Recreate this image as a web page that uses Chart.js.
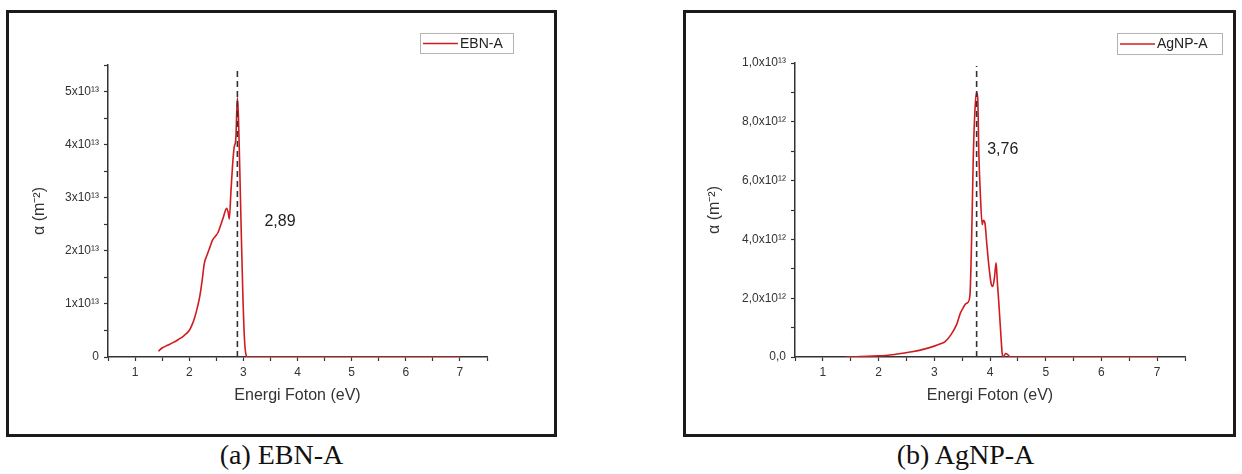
<!DOCTYPE html>
<html>
<head>
<meta charset="utf-8">
<title>Energi Foton</title>
<script src="https://cdn.jsdelivr.net/npm/chart.js@4.4.1/dist/chart.umd.min.js"></script>
<style>
  body { margin: 0; background: #fff; width: 1242px; height: 474px; position: relative; overflow: hidden; }
  .frame { position: absolute; top: 10px; height: 427px; border: 3px solid #1b1b1b; box-sizing: border-box; }
  .frame canvas { display: block; }
  .caption { position: absolute; top: 439px; line-height: 32px; font-family: "Liberation Serif", "Times New Roman", serif; font-size: 28px; color: #111; text-align: center; }
</style>
</head>
<body>

<div class="frame" style="left:6px; width:551px;"><canvas id="chartA" width="545" height="421"></canvas></div>
<div class="frame" style="left:683px; width:553px;"><canvas id="chartB" width="547" height="421"></canvas></div>
<div class="caption" style="left:6px; width:551px;">(a) EBN-A</div>
<div class="caption" style="left:689px; width:553px;">(b) AgNP-A</div>

<script>
// EBN-A : alpha (m^-2) vs photon energy (eV)
var ebnX = [1.43, 1.5, 1.6, 1.7, 1.8, 1.9, 2.0, 2.05, 2.1, 2.15, 2.2, 2.24, 2.28, 2.33, 2.38, 2.43, 2.48, 2.53, 2.58, 2.63, 2.69, 2.72, 2.74, 2.77, 2.8, 2.83, 2.86, 2.89, 2.91, 2.93, 2.96, 2.99, 3.02, 3.05, 3.08, 7.0];
var ebnY = [0.11e13, 0.17e13, 0.22e13, 0.27e13, 0.33e13, 0.4e13, 0.5e13, 0.6e13, 0.74e13, 0.93e13, 1.17e13, 1.45e13, 1.77e13, 1.92e13, 2.06e13, 2.2e13, 2.27e13, 2.34e13, 2.48e13, 2.63e13, 2.8e13, 2.72e13, 2.6e13, 3.1e13, 3.6e13, 3.95e13, 4.1e13, 4.88e13, 4.5e13, 3.7e13, 2.4e13, 1.2e13, 0.35e13, 0.04e13, 0, 0];

// AgNP-A
var agX = [1.41, 1.6, 1.8, 2.0, 2.2, 2.4, 2.6, 2.8, 3.0, 3.1, 3.2, 3.3, 3.4, 3.47, 3.52, 3.56, 3.6, 3.64, 3.67, 3.7, 3.73, 3.76, 3.78, 3.8, 3.83, 3.86, 3.88, 3.91, 3.94, 3.98, 4.02, 4.05, 4.08, 4.11, 4.13, 4.16, 4.19, 4.22, 4.24, 4.28, 4.32, 4.36, 7.0];
var agY = [0, 0.01e12, 0.02e12, 0.04e12, 0.07e12, 0.12e12, 0.18e12, 0.26e12, 0.37e12, 0.44e12, 0.53e12, 0.76e12, 1.1e12, 1.5e12, 1.68e12, 1.8e12, 1.85e12, 2.1e12, 4.0e12, 6.8e12, 8.4e12, 9.0e12, 8.8e12, 6.9e12, 5.4e12, 4.5e12, 4.65e12, 4.55e12, 3.9e12, 3.1e12, 2.5e12, 2.4e12, 2.7e12, 3.2e12, 2.6e12, 1.8e12, 0.9e12, 0.1e12, 0, 0.12e12, 0.08e12, 0, 0];

// gap energies marked with dashed lines
var gapA = 2.89;
var gapB = 3.76;

var xTicks = { min: 0.5, max: 7.5, step: 0.5 };

function toPoints(xs, ys) {
  return xs.map(function (x, i) { return { x: x, y: ys[i] }; });
}

var FONT = '"Liberation Sans", Arial, sans-serif';
var RED = '#d01c1f';

// note text + boxed legend
var extras = {
  id: 'extras',
  afterDraw: function (chart, args, opts) {
    var ctx = chart.ctx, xs = chart.scales.x, ys = chart.scales.y;
    ctx.save();
    ctx.fillStyle = '#222';
    ctx.textBaseline = 'middle';
    ctx.font = '16px ' + FONT;
    ctx.fillText(opts.note, xs.getPixelForValue(opts.noteAt[0]), ys.getPixelForValue(opts.noteAt[1]));

    var ds = chart.data.datasets[0];
    var b = opts.legendBox;
    ctx.strokeStyle = '#b4b4b4';
    ctx.lineWidth = 1;
    ctx.strokeRect(b[0] + 0.5, b[1] + 0.5, b[2], b[3]);
    ctx.strokeStyle = ds.borderColor;
    ctx.lineWidth = 1.6;
    ctx.beginPath();
    ctx.moveTo(b[0] + 3, b[1] + b[3] / 2 + 0.5);
    ctx.lineTo(b[0] + 38, b[1] + b[3] / 2 + 0.5);
    ctx.stroke();
    ctx.font = '14px ' + FONT;
    ctx.fillText(ds.label, b[0] + 40, b[1] + b[3] / 2 + 1);
    ctx.restore();
  }
};

function makeChart(id, cfg) {
  var axisColor = '#333';
  return new Chart(document.getElementById(id), {
    type: 'line',
    data: {
      datasets: [
        {
          label: cfg.label,
          data: toPoints(cfg.xs, cfg.ys),
          borderColor: RED,
          borderWidth: 1.6,
          pointRadius: 0,
          cubicInterpolationMode: 'monotone',
          fill: false,
          order: 1
        },
        {
          label: 'gap',
          data: [{ x: cfg.gap, y: 0 }, { x: cfg.gap, y: cfg.dashTop }],
          borderColor: '#333',
          borderWidth: 1.6,
          borderDash: [6, 4],
          pointRadius: 0,
          fill: false,
          order: 0
        }
      ]
    },
    options: {
      responsive: false,
      animation: false,
      events: [],
      layout: { padding: { left: cfg.padLeft, right: cfg.padRight, top: cfg.padTop, bottom: 29 } },
      plugins: {
        legend: { display: false },
        tooltip: { enabled: false },
        extras: { note: cfg.note, noteAt: cfg.noteAt, legendBox: cfg.legendBox }
      },
      scales: {
        x: {
          type: 'linear',
          min: xTicks.min,
          max: xTicks.max,
          afterFit: function (s) { s.height = 48; },
          border: { display: true, color: axisColor, width: 1.5 },
          grid: { drawOnChartArea: false, drawTicks: true, tickLength: 4, color: axisColor, tickWidth: 1.2 },
          ticks: {
            stepSize: xTicks.step,
            autoSkip: false,
            maxRotation: 0,
            padding: 4,
            color: '#333',
            font: { family: FONT, size: 12 },
            callback: function (v) { return Number.isInteger(v) ? String(v) : ''; }
          },
          title: { display: true, text: 'Energi Foton (eV)', color: '#333', padding: 0, font: { family: FONT, size: 16 } }
        },
        y: {
          min: 0,
          max: cfg.yMax,
          afterFit: function (s) { s.width = cfg.yWidth; },
          border: { display: true, color: axisColor, width: 1.5 },
          grid: { drawOnChartArea: false, drawTicks: true, tickLength: 4, color: axisColor, tickWidth: 1.2 },
          ticks: {
            stepSize: cfg.yStep,
            autoSkip: false,
            padding: 5,
            color: '#333',
            font: { family: FONT, size: 12 },
            callback: cfg.yLabel
          },
          title: { display: true, text: 'α (m⁻²)', color: '#333', padding: 0, font: { family: FONT, size: 16 } }
        }
      }
    },
    plugins: [extras]
  });
}

makeChart('chartA', {
  label: 'EBN-A',
  xs: ebnX, ys: ebnY,
  gap: gapA, dashTop: 5.45e13,
  yMax: 5.5e13, yStep: 0.5e13,
  yLabel: function (v) {
    var k = Math.round(v / 0.5e13);
    if (k % 2) return '';
    return k === 0 ? '0' : (k / 2) + 'x10¹³';
  },
  yWidth: 78, padLeft: 21, padRight: 67, padTop: 52,
  note: '2,89', noteAt: [3.39, 2.55e13],
  legendBox: [411, 20, 93, 20]
});

makeChart('chartB', {
  label: 'AgNP-A',
  xs: agX, ys: agY,
  gap: gapB, dashTop: 0.99e13,
  yMax: 1.0e13, yStep: 1e12,
  yLabel: function (v) {
    var k = Math.round(v / 1e12);
    if (k % 2) return '';
    if (k === 0) return '0,0';
    if (k === 10) return '1,0x10¹³';
    return k + ',0x10¹²';
  },
  yWidth: 90, padLeft: 19, padRight: 48, padTop: 50,
  note: '3,76', noteAt: [3.95, 7.06e12],
  legendBox: [431, 20, 105, 21]
});
</script>
</body>
</html>
